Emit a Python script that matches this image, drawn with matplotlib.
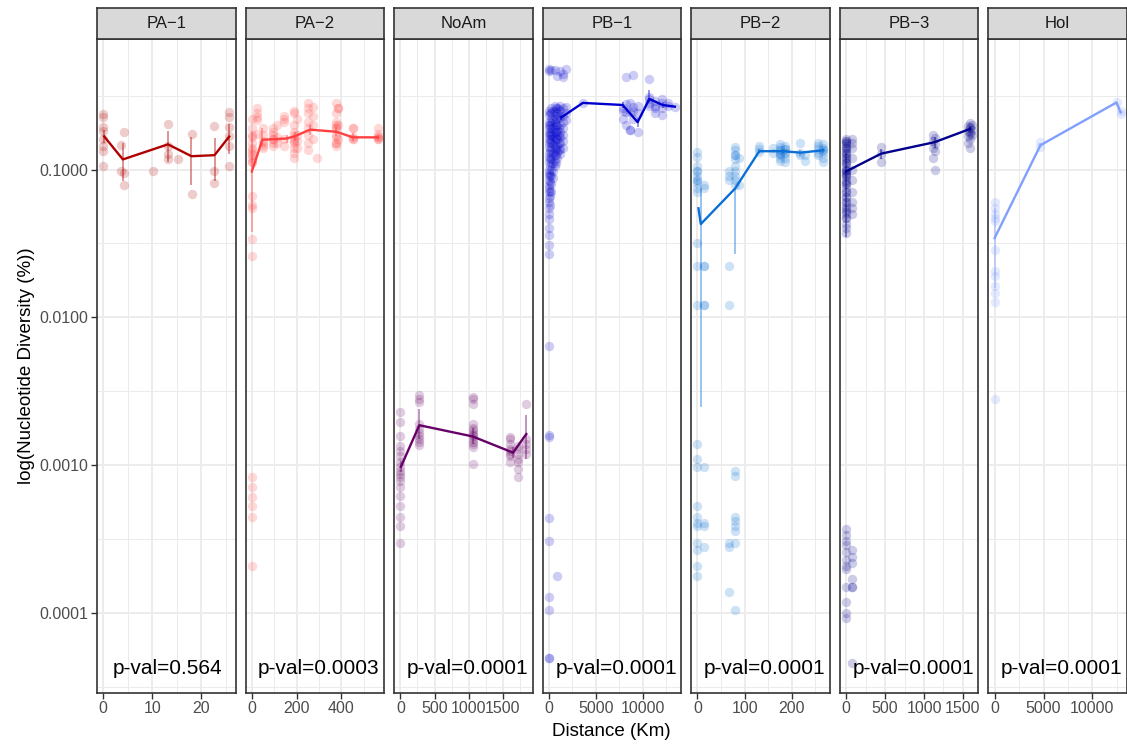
import matplotlib.pyplot as plt
import numpy as np
from matplotlib.ticker import FixedLocator, NullFormatter

plt.rcParams['font.family'] = ['Liberation Sans', 'DejaVu Sans']

FIG_W, FIG_H = 1127, 744

STRIP_LABELS = ['PA\u22121', 'PA\u22122', 'NoAm', 'PB\u22121', 'PB\u22122', 'PB\u22123', 'Hol']
P_VALUES = ['p-val=0.564', 'p-val=0.0003', 'p-val=0.0001', 'p-val=0.0001',
            'p-val=0.0001', 'p-val=0.0001', 'p-val=0.0001']
COLORS = ['#b00000', '#ff4040', '#660066', '#0000cd', '#0b6fd6', '#00008b', '#809fff']

X_MAJOR = [[0, 10, 20], [0, 200, 400], [0, 500, 1000, 1500], [0, 5000, 10000],
           [0, 100, 200], [0, 500, 1000, 1500], [0, 5000, 10000]]

Y_MAJOR = [1e-4, 1e-3, 1e-2, 1e-1]

# ---- PA-1 ----
PA1_POINTS = [
    (0.0, [0.238, 0.227, 0.195, 0.183, 0.162, 0.145, 0.134, 0.105]),
    (3.6, [0.147, 0.097]),
    (4.2, [0.178, 0.094, 0.079]),
    (10.2, [0.097]),
    (13.2, [0.203, 0.145, 0.128, 0.118]),
    (15.3, [0.117]),
    (18.2, [0.174, 0.068]),
    (22.6, [0.197, 0.098, 0.081]),
    (25.7, [0.245, 0.227, 0.195, 0.169, 0.145, 0.106]),
]
PA1_LINE_X = [0.2, 4.0, 13.2, 18.0, 22.7, 25.7]
PA1_LINE_Y = [0.167, 0.117, 0.148, 0.123, 0.125, 0.167]
PA1_ERR_LO = [0.150, 0.083, 0.113, 0.078, 0.084, 0.128]
PA1_ERR_HI = [0.185, 0.152, 0.183, 0.166, 0.164, 0.204]

# ---- PA-2 ----
PA2_POINTS = [
    (0, [0.22, 0.19, 0.17, 0.165, 0.15, 0.14, 0.135, 0.13, 0.125, 0.12, 0.113, 0.113,
         0.066, 0.058, 0.055, 0.034, 0.026,
         0.00084, 0.00072, 0.00061, 0.00053, 0.00045, 0.00021]),
    (22, [0.26, 0.24, 0.225, 0.215, 0.175]),
    (48, [0.19, 0.17, 0.155, 0.145, 0.14, 0.15]),
    (95, [0.19, 0.18, 0.17, 0.16, 0.15, 0.145, 0.16]),
    (112, [0.2, 0.165, 0.15]),
    (145, [0.23, 0.22, 0.16, 0.145, 0.21]),
    (190, [0.25, 0.24, 0.2, 0.18, 0.17, 0.16, 0.15, 0.14, 0.13, 0.12, 0.155]),
    (202, [0.22, 0.17, 0.155, 0.14]),
    (252, [0.28, 0.26, 0.24, 0.21, 0.19, 0.17, 0.15, 0.135]),
    (272, [0.265, 0.23, 0.2, 0.16]),
    (292, [0.12]),
    (375, [0.28, 0.24, 0.21, 0.2, 0.19, 0.19, 0.17, 0.165, 0.15, 0.145, 0.15]),
    (385, [0.26, 0.26, 0.2, 0.16]),
    (452, [0.19, 0.19, 0.165, 0.16, 0.16]),
    (562, [0.19, 0.175, 0.165, 0.165, 0.16, 0.16]),
]
PA2_LINE_X = [0, 47, 155, 193, 259, 377, 451, 562]
PA2_LINE_Y = [0.097, 0.159, 0.162, 0.168, 0.186, 0.180, 0.165, 0.165]
PA2_ERR_LO = [0.038, 0.145, 0.152, 0.155, 0.172, 0.168, 0.155, 0.158]
PA2_ERR_HI = [0.180, 0.190, 0.172, 0.180, 0.200, 0.193, 0.176, 0.172]

# ---- NoAm ----
NOAM_POINTS = [
    (0, [0.0023, 0.00197, 0.00157, 0.00135, 0.00125, 0.00115, 0.00105, 0.00098,
         0.00092, 0.00088, 0.00084, 0.00078, 0.00072, 0.00062, 0.00053, 0.00045,
         0.00039, 0.0003]),
    (277, [0.0030, 0.0028, 0.0027, 0.0019, 0.00175, 0.00165, 0.00157, 0.0015,
           0.00145, 0.00137]),
    (1058, [0.0029, 0.0028, 0.0026, 0.0019, 0.0018, 0.00174, 0.00165, 0.0016,
            0.00157, 0.0015, 0.00145, 0.0014, 0.00133, 0.00103]),
    (1600, [0.00155, 0.0015, 0.0014, 0.0013, 0.00125, 0.0012, 0.00115, 0.00105]),
    (1720, [0.00135, 0.0013, 0.0012, 0.0011, 0.00105, 0.00095, 0.00084]),
    (1844, [0.0026, 0.0015, 0.0014, 0.0013, 0.0012]),
]
NOAM_LINE_X = [8, 277, 1058, 1650, 1844]
NOAM_LINE_Y = [0.00098, 0.00187, 0.00157, 0.00122, 0.00163]
NOAM_ERR_LO = [0.00090, 0.00150, 0.00140, 0.00112, 0.00110]
NOAM_ERR_HI = [0.00107, 0.00240, 0.00180, 0.00133, 0.00220]

# ---- PB-1 ----
PB1_POINTS = [
    (0, [0.48, 0.46, 0.25, 0.235, 0.21, 0.2, 0.19, 0.18, 0.172, 0.16, 0.15, 0.143,
         0.13, 0.122, 0.112, 0.1, 0.095, 0.09, 0.085, 0.079, 0.075, 0.07, 0.064,
         0.06, 0.055, 0.05, 0.046, 0.04, 0.036, 0.031, 0.027,
         0.0064, 0.0016, 0.00155, 0.00044, 0.00031, 0.00013, 0.000105,
         0.00005, 0.00005]),
    (120, [0.24, 0.2, 0.175, 0.155, 0.135, 0.118, 0.105, 0.092, 0.082, 0.072, 0.066,
           0.058]),
    (250, [0.47, 0.26, 0.24, 0.22, 0.205, 0.19, 0.18, 0.17, 0.16, 0.15, 0.14, 0.13,
           0.12, 0.11, 0.1, 0.09, 0.08, 0.07]),
    (420, [0.25, 0.215, 0.19, 0.168, 0.148, 0.128, 0.11, 0.098, 0.088]),
    (600, [0.47, 0.27, 0.25, 0.23, 0.21, 0.195, 0.178, 0.165, 0.155, 0.145, 0.135,
           0.125, 0.115, 0.105]),
    (750, [0.26, 0.22, 0.2, 0.18, 0.16, 0.14, 0.125, 0.11]),
    (900, [0.43, 0.26, 0.24, 0.22, 0.2, 0.185, 0.17, 0.16, 0.145, 0.132, 0.12,
           0.00018]),
    (1050, [0.255, 0.23, 0.19, 0.172, 0.15, 0.135]),
    (1200, [0.46, 0.27, 0.25, 0.225, 0.2, 0.18, 0.165, 0.15, 0.138, 0.128]),
    (1500, [0.44, 0.42, 0.26, 0.23, 0.21, 0.19, 0.17, 0.155, 0.14]),
    (1850, [0.475, 0.265, 0.24, 0.215]),
    (3617, [0.28]),
    (7900, [0.25, 0.22, 0.26]),
    (8250, [0.42, 0.277, 0.244, 0.2]),
    (8600, [0.244, 0.184, 0.184, 0.28]),
    (8950, [0.435, 0.265, 0.22, 0.25]),
    (9500, [0.18, 0.24, 0.27]),
    (10713, [0.41, 0.31, 0.3, 0.28, 0.27]),
    (11300, [0.29, 0.26, 0.27, 0.24]),
    (12100, [0.3, 0.28, 0.235, 0.26]),
    (12700, [0.28, 0.27]),
    (13440, [0.266]),
]
PB1_LINE_X = [1320, 3617, 7872, 9468, 10713, 12128, 13440]
PB1_LINE_Y = [0.225, 0.282, 0.273, 0.209, 0.30, 0.273, 0.266]
PB1_ERR_LO = [0.215, 0.282, 0.262, 0.195, 0.285, 0.262, 0.266]
PB1_ERR_HI = [0.235, 0.282, 0.285, 0.223, 0.345, 0.285, 0.266]

# ---- PB-2 ----
PB2_POINTS = [
    (0, [0.132, 0.122, 0.105, 0.097, 0.09, 0.085, 0.081, 0.075, 0.071, 0.032, 0.0224,
         0.0122, 0.0014, 0.0011, 0.00098, 0.00053, 0.00045, 0.00041, 0.00039, 0.0003,
         0.00027, 0.00021, 0.00018, 0.097, 0.085]),
    (14, [0.079, 0.075, 0.0224, 0.0224, 0.0122, 0.0122, 0.00097, 0.00041, 0.00039,
          0.00028]),
    (67, [0.097, 0.09, 0.085, 0.0224, 0.0122, 0.0003, 0.00028, 0.00014]),
    (80, [0.143, 0.135, 0.125, 0.118, 0.105, 0.097, 0.09, 0.085, 0.078, 0.00091,
          0.00085, 0.00045, 0.00042, 0.00039, 0.00036, 0.0003, 0.000106, 0.125]),
    (88, [0.12, 0.078]),
    (131, [0.145, 0.138, 0.132]),
    (160, [0.14, 0.13]),
    (175, [0.148, 0.142, 0.135, 0.13, 0.128, 0.125, 0.12, 0.115, 0.135]),
    (185, [0.145, 0.138, 0.13, 0.13, 0.12, 0.112, 0.138]),
    (218, [0.15, 0.13, 0.125]),
    (228, [0.125, 0.115]),
    (256, [0.15, 0.145, 0.138, 0.13, 0.125]),
    (267, [0.148, 0.14, 0.135, 0.13, 0.12, 0.112, 0.135]),
]
PB2_LINE_X = [2, 7, 80, 131, 182, 218, 267]
PB2_LINE_Y = [0.0547, 0.0428, 0.0746, 0.133, 0.133, 0.13, 0.135]
PB2_ERR_LO = [0.0547, 0.0025, 0.027, 0.13, 0.128, 0.124, 0.13]
PB2_ERR_HI = [0.0547, 0.075, 0.075, 0.137, 0.138, 0.136, 0.14]

# ---- PB-3 ----
PB3_POINTS = [
    (0, [0.16, 0.155, 0.15, 0.145, 0.14, 0.135, 0.13, 0.125, 0.12, 0.115, 0.11, 0.105,
         0.1, 0.097, 0.093, 0.09, 0.085, 0.08, 0.075, 0.07, 0.065, 0.06, 0.057, 0.053,
         0.05, 0.047, 0.043, 0.04, 0.037, 0.155, 0.14, 0.12, 0.1, 0.09, 0.08, 0.07,
         0.06, 0.055, 0.047, 0.15, 0.13, 0.11, 0.095, 0.082, 0.065, 0.052,
         0.00037, 0.00034, 0.00031, 0.00029, 0.00026, 0.00023, 0.00021, 0.0002,
         0.00015, 0.00012, 0.0001, 0.000093]),
    (70, [0.16, 0.15, 0.14, 0.12, 0.1, 0.085, 0.07, 0.06, 0.055, 0.05,
          0.00027, 0.00024, 0.00022, 0.00017, 0.00015, 0.00015, 0.000046]),
    (450, [0.142, 0.128, 0.113]),
    (1120, [0.17, 0.155, 0.14, 0.12]),
    (1145, [0.163, 0.148, 0.133, 0.10]),
    (1565, [0.198, 0.183, 0.168, 0.15]),
    (1590, [0.205, 0.19, 0.175, 0.16, 0.14, 0.195, 0.18]),
    (1615, [0.2, 0.185, 0.17]),
]
PB3_LINE_X = [0, 450, 1135, 1590]
PB3_LINE_Y = [0.097, 0.128, 0.153, 0.188]
PB3_ERR_LO = [0.035, 0.118, 0.140, 0.178]
PB3_ERR_HI = [0.130, 0.138, 0.165, 0.198]

# ---- Hol ----
HOL_POINTS = [
    (0, [0.0607, 0.055, 0.05, 0.047, 0.045, 0.0288, 0.0207, 0.019, 0.0163, 0.0146,
         0.0128, 0.0028]),
    (4687, [0.153, 0.142]),
    (12465, [0.284]),
    (12870, [0.25, 0.238]),
]
HOL_LINE_X = [0, 4687, 12465, 12870]
HOL_LINE_Y = [0.0344, 0.146, 0.284, 0.244]
HOL_ERR_LO = [0.0159, 0.14, 0.284, 0.238]
HOL_ERR_HI = [0.0547, 0.152, 0.284, 0.25]

PANELS = [
    (PA1_POINTS, PA1_LINE_X, PA1_LINE_Y, PA1_ERR_LO, PA1_ERR_HI),
    (PA2_POINTS, PA2_LINE_X, PA2_LINE_Y, PA2_ERR_LO, PA2_ERR_HI),
    (NOAM_POINTS, NOAM_LINE_X, NOAM_LINE_Y, NOAM_ERR_LO, NOAM_ERR_HI),
    (PB1_POINTS, PB1_LINE_X, PB1_LINE_Y, PB1_ERR_LO, PB1_ERR_HI),
    (PB2_POINTS, PB2_LINE_X, PB2_LINE_Y, PB2_ERR_LO, PB2_ERR_HI),
    (PB3_POINTS, PB3_LINE_X, PB3_LINE_Y, PB3_ERR_LO, PB3_ERR_HI),
    (HOL_POINTS, HOL_LINE_X, HOL_LINE_Y, HOL_ERR_LO, HOL_ERR_HI),
]


def expand(lo, hi, frac=0.05):
    span = hi - lo
    return lo - frac * span, hi + frac * span


def flatten(groups):
    xs, ys = [], []
    for gx, gys in groups:
        xs.extend([gx] * len(gys))
        ys.extend(gys)
    return np.array(xs, dtype=float), np.array(ys, dtype=float)


# shared log-y limits, ggplot style 5% expansion
all_y = np.concatenate([flatten(p[0])[1] for p in PANELS])
ylo, yhi = expand(np.log10(all_y.min()), np.log10(all_y.max()))
y_minor = [10 ** (k + 0.5) for k in range(-5, 0)]

fig = plt.figure(figsize=(FIG_W / 100, FIG_H / 100), dpi=100)

PANEL_TOP, PANEL_BOTTOM, STRIP_TOP = 39, 693, 8
PANEL_LEFT0, PANEL_STEP, PANEL_W = 97, 148.55, 138.5

for i, (groups, lx, ly, elo, ehi) in enumerate(PANELS):
    left = (PANEL_LEFT0 + i * PANEL_STEP) / FIG_W
    ax = fig.add_axes([left, 1 - PANEL_BOTTOM / FIG_H, PANEL_W / FIG_W,
                       (PANEL_BOTTOM - PANEL_TOP) / FIG_H])
    color = COLORS[i]
    px, py = flatten(groups)

    ax.scatter(px, py, s=46, color=color, alpha=0.2, linewidths=0, zorder=2)
    ax.vlines(lx, elo, ehi, color=color, alpha=0.45, linewidth=1.3, zorder=3)
    ax.plot(lx, ly, color=color, linewidth=1.7, zorder=4)

    ax.set_yscale('log')
    ax.set_ylim(10 ** ylo, 10 ** yhi)
    xmin, xmax = expand(0, max(px.max(), max(lx)))
    ax.set_xlim(xmin, xmax)

    majors = X_MAJOR[i]
    step = majors[1] - majors[0]
    x_minor = [m + step / 2 for m in [majors[0] - step] + majors]
    ax.xaxis.set_major_locator(FixedLocator(majors))
    ax.xaxis.set_minor_locator(FixedLocator(x_minor))
    ax.yaxis.set_major_locator(FixedLocator(Y_MAJOR))
    ax.yaxis.set_minor_locator(FixedLocator(y_minor))
    ax.yaxis.set_minor_formatter(NullFormatter())
    ax.set_xticklabels([str(m) for m in majors])

    ax.grid(which='major', color='#ebebeb', linewidth=1.3, zorder=0)
    ax.grid(which='minor', color='#ebebeb', linewidth=0.7, zorder=0)
    ax.set_axisbelow(True)

    ax.tick_params(which='major', length=4, width=1, color='#333333',
                   labelsize=11.5, labelcolor='#4d4d4d', pad=2)
    ax.tick_params(which='minor', length=0)
    if i == 0:
        ax.set_yticklabels([f'{v:.4f}' for v in Y_MAJOR])
    else:
        ax.tick_params(axis='y', which='both', left=False, labelleft=False)

    for sp in ax.spines.values():
        sp.set_color('#333333')
        sp.set_linewidth(1.2)

    ax.text(0.53 if i else 0.51, 0.037, P_VALUES[i], transform=ax.transAxes,
            ha='center', va='center', fontsize=15, color='black', zorder=5)

    sax = fig.add_axes([left, 1 - PANEL_TOP / FIG_H, PANEL_W / FIG_W,
                        (PANEL_TOP - STRIP_TOP) / FIG_H])
    sax.set_facecolor('#d9d9d9')
    sax.set_xticks([])
    sax.set_yticks([])
    for sp in sax.spines.values():
        sp.set_color('#333333')
        sp.set_linewidth(1.2)
    sax.text(0.5, 0.5, STRIP_LABELS[i], ha='center', va='center',
             fontsize=12, color='#1a1a1a', transform=sax.transAxes)

fig.text(611.5 / FIG_W, 1 - 731 / FIG_H, 'Distance (Km)', ha='center', va='center',
         fontsize=13.5)
fig.text(27 / FIG_W, 1 - 366 / FIG_H, 'log(Nucleotide Diversity (%))', ha='center',
         va='center', rotation=90, fontsize=13.5)

fig.savefig('out.png', dpi=100)
